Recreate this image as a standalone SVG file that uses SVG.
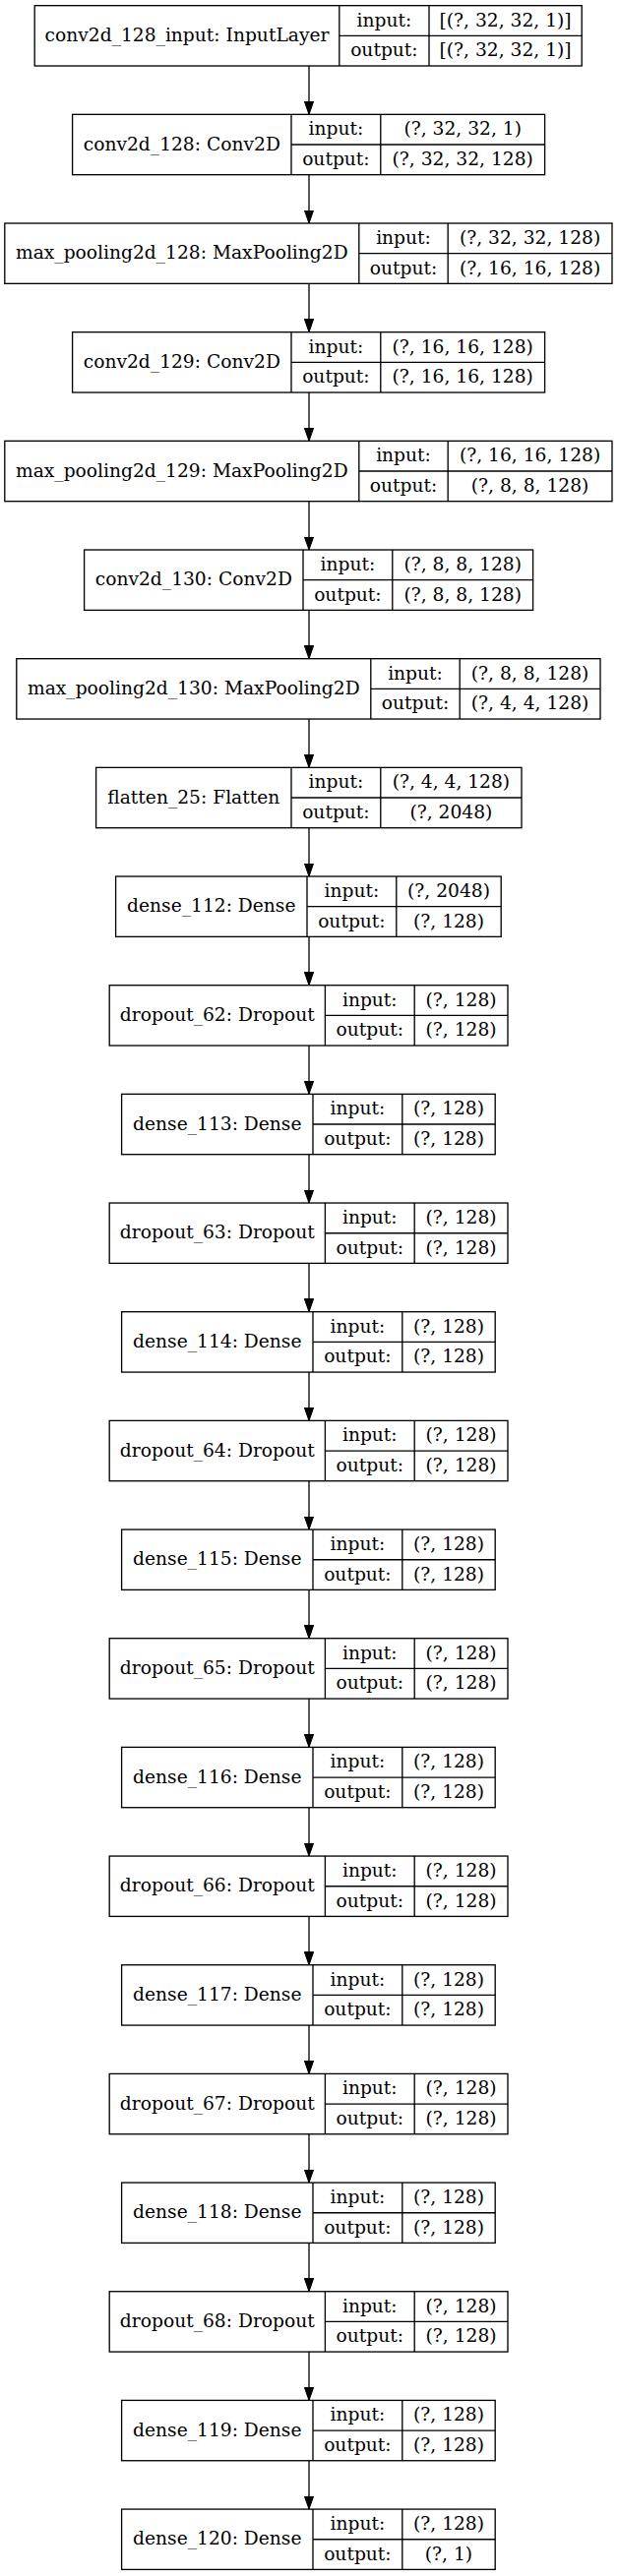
<svg xmlns="http://www.w3.org/2000/svg" width="628" height="2619" viewBox="0 0 628 2619">
<style>
.b{fill:#fff;stroke:#000;stroke-width:1.33}
.l{stroke:#000;stroke-width:1.33;fill:none}
text{font-family:"DejaVu Serif","Liberation Serif",serif;font-size:18.67px;fill:#000;text-anchor:middle}
</style>
<defs>
<marker id="ah" markerUnits="userSpaceOnUse" markerWidth="14" markerHeight="10" refX="13.33" refY="4.67" orient="auto">
<path d="M0,0 L13.33,4.67 L0,9.33 Z" fill="#000" stroke="#000" stroke-width="1"/>
</marker>
</defs>
<rect width="628" height="2619" fill="#fff"/>
<g id="connectors">
<line class="l" x1="314" y1="67" x2="314" y2="116.34" marker-end="url(#ah)"/>
<line class="l" x1="314" y1="177.67" x2="314" y2="227.01" marker-end="url(#ah)"/>
<line class="l" x1="314" y1="288.34" x2="314" y2="337.68" marker-end="url(#ah)"/>
<line class="l" x1="314" y1="399.01" x2="314" y2="448.35" marker-end="url(#ah)"/>
<line class="l" x1="314" y1="509.68" x2="314" y2="559.02" marker-end="url(#ah)"/>
<line class="l" x1="314" y1="620.35" x2="314" y2="669.69" marker-end="url(#ah)"/>
<line class="l" x1="314" y1="731.02" x2="314" y2="780.36" marker-end="url(#ah)"/>
<line class="l" x1="314" y1="841.69" x2="314" y2="891.03" marker-end="url(#ah)"/>
<line class="l" x1="314" y1="952.36" x2="314" y2="1001.70" marker-end="url(#ah)"/>
<line class="l" x1="314" y1="1063.03" x2="314" y2="1112.37" marker-end="url(#ah)"/>
<line class="l" x1="314" y1="1173.70" x2="314" y2="1223.04" marker-end="url(#ah)"/>
<line class="l" x1="314" y1="1284.37" x2="314" y2="1333.71" marker-end="url(#ah)"/>
<line class="l" x1="314" y1="1395.04" x2="314" y2="1444.38" marker-end="url(#ah)"/>
<line class="l" x1="314" y1="1505.71" x2="314" y2="1555.05" marker-end="url(#ah)"/>
<line class="l" x1="314" y1="1616.38" x2="314" y2="1665.72" marker-end="url(#ah)"/>
<line class="l" x1="314" y1="1727.05" x2="314" y2="1776.39" marker-end="url(#ah)"/>
<line class="l" x1="314" y1="1837.72" x2="314" y2="1887.06" marker-end="url(#ah)"/>
<line class="l" x1="314" y1="1948.39" x2="314" y2="1997.73" marker-end="url(#ah)"/>
<line class="l" x1="314" y1="2059.06" x2="314" y2="2108.40" marker-end="url(#ah)"/>
<line class="l" x1="314" y1="2169.73" x2="314" y2="2219.07" marker-end="url(#ah)"/>
<line class="l" x1="314" y1="2280.40" x2="314" y2="2329.74" marker-end="url(#ah)"/>
<line class="l" x1="314" y1="2391.07" x2="314" y2="2440.41" marker-end="url(#ah)"/>
<line class="l" x1="314" y1="2501.74" x2="314" y2="2551.08" marker-end="url(#ah)"/>
</g>
<g id="conv2d_128_input" transform="translate(0,5.67)">
<rect class="b" x="35.2" y="0" width="556" height="61.33"/>
<path class="l" d="M344.8,0V61.33M436,0V61.33M344.8,30.67H591.2"/>
<text x="190" y="36.3">conv2d_128_input: InputLayer</text>
<text x="390.4" y="21">input:</text><text x="390.4" y="51.7">output:</text>
<text x="513.6" y="21">[(?, 32, 32, 1)]</text><text x="513.6" y="51.7">[(?, 32, 32, 1)]</text>
</g>
<g id="conv2d_128" transform="translate(0,116.34)">
<rect class="b" x="73.6" y="0" width="480" height="61.33"/>
<path class="l" d="M296,0V61.33M386.8,0V61.33M296,30.67H553.6"/>
<text x="184.8" y="36.3">conv2d_128: Conv2D</text>
<text x="341.4" y="21">input:</text><text x="341.4" y="51.7">output:</text>
<text x="470.2" y="21">(?, 32, 32, 1)</text><text x="470.2" y="51.7">(?, 32, 32, 128)</text>
</g>
<g id="max_pooling2d_128" transform="translate(0,227.01)">
<rect class="b" x="4.8" y="0" width="617.2" height="61.33"/>
<path class="l" d="M364.8,0V61.33M455.2,0V61.33M364.8,30.67H622"/>
<text x="184.8" y="36.3">max_pooling2d_128: MaxPooling2D</text>
<text x="410" y="21">input:</text><text x="410" y="51.7">output:</text>
<text x="538.6" y="21">(?, 32, 32, 128)</text><text x="538.6" y="51.7">(?, 16, 16, 128)</text>
</g>
<g id="conv2d_129" transform="translate(0,337.68)">
<rect class="b" x="73.6" y="0" width="480" height="61.33"/>
<path class="l" d="M296,0V61.33M386.8,0V61.33M296,30.67H553.6"/>
<text x="184.8" y="36.3">conv2d_129: Conv2D</text>
<text x="341.4" y="21">input:</text><text x="341.4" y="51.7">output:</text>
<text x="470.2" y="21">(?, 16, 16, 128)</text><text x="470.2" y="51.7">(?, 16, 16, 128)</text>
</g>
<g id="max_pooling2d_129" transform="translate(0,448.35)">
<rect class="b" x="4.8" y="0" width="617.2" height="61.33"/>
<path class="l" d="M364.8,0V61.33M455.2,0V61.33M364.8,30.67H622"/>
<text x="184.8" y="36.3">max_pooling2d_129: MaxPooling2D</text>
<text x="410" y="21">input:</text><text x="410" y="51.7">output:</text>
<text x="538.6" y="21">(?, 16, 16, 128)</text><text x="538.6" y="51.7">(?, 8, 8, 128)</text>
</g>
<g id="conv2d_130" transform="translate(0,559.02)">
<rect class="b" x="85.6" y="0" width="456" height="61.33"/>
<path class="l" d="M308,0V61.33M398.8,0V61.33M308,30.67H541.6"/>
<text x="196.8" y="36.3">conv2d_130: Conv2D</text>
<text x="353.4" y="21">input:</text><text x="353.4" y="51.7">output:</text>
<text x="470.2" y="21">(?, 8, 8, 128)</text><text x="470.2" y="51.7">(?, 8, 8, 128)</text>
</g>
<g id="max_pooling2d_130" transform="translate(0,669.69)">
<rect class="b" x="16.8" y="0" width="593.2" height="61.33"/>
<path class="l" d="M376.8,0V61.33M467.2,0V61.33M376.8,30.67H610"/>
<text x="196.8" y="36.3">max_pooling2d_130: MaxPooling2D</text>
<text x="422" y="21">input:</text><text x="422" y="51.7">output:</text>
<text x="538.6" y="21">(?, 8, 8, 128)</text><text x="538.6" y="51.7">(?, 4, 4, 128)</text>
</g>
<g id="flatten_25" transform="translate(0,780.36)">
<rect class="b" x="97.6" y="0" width="432.4" height="61.33"/>
<path class="l" d="M296,0V61.33M386.8,0V61.33M296,30.67H530"/>
<text x="196.8" y="36.3">flatten_25: Flatten</text>
<text x="341.4" y="21">input:</text><text x="341.4" y="51.7">output:</text>
<text x="458.4" y="21">(?, 4, 4, 128)</text><text x="458.4" y="51.7">(?, 2048)</text>
</g>
<g id="dense_112" transform="translate(0,891.03)">
<rect class="b" x="117.6" y="0" width="391.6" height="61.33"/>
<path class="l" d="M312,0V61.33M402.8,0V61.33M312,30.67H509.2"/>
<text x="214.8" y="36.3">dense_112: Dense</text>
<text x="357.4" y="21">input:</text><text x="357.4" y="51.7">output:</text>
<text x="456" y="21">(?, 2048)</text><text x="456" y="51.7">(?, 128)</text>
</g>
<g id="dropout_62" transform="translate(0,1001.70)">
<rect class="b" x="111.2" y="0" width="404.8" height="61.33"/>
<path class="l" d="M330.4,0V61.33M421.2,0V61.33M330.4,30.67H516"/>
<text x="220.8" y="36.3">dropout_62: Dropout</text>
<text x="375.8" y="21">input:</text><text x="375.8" y="51.7">output:</text>
<text x="468.6" y="21">(?, 128)</text><text x="468.6" y="51.7">(?, 128)</text>
</g>
<g id="dense_113" transform="translate(0,1112.37)">
<rect class="b" x="123.6" y="0" width="379.6" height="61.33"/>
<path class="l" d="M318,0V61.33M408.8,0V61.33M318,30.67H503.2"/>
<text x="220.8" y="36.3">dense_113: Dense</text>
<text x="363.4" y="21">input:</text><text x="363.4" y="51.7">output:</text>
<text x="456" y="21">(?, 128)</text><text x="456" y="51.7">(?, 128)</text>
</g>
<g id="dropout_63" transform="translate(0,1223.04)">
<rect class="b" x="111.2" y="0" width="404.8" height="61.33"/>
<path class="l" d="M330.4,0V61.33M421.2,0V61.33M330.4,30.67H516"/>
<text x="220.8" y="36.3">dropout_63: Dropout</text>
<text x="375.8" y="21">input:</text><text x="375.8" y="51.7">output:</text>
<text x="468.6" y="21">(?, 128)</text><text x="468.6" y="51.7">(?, 128)</text>
</g>
<g id="dense_114" transform="translate(0,1333.71)">
<rect class="b" x="123.6" y="0" width="379.6" height="61.33"/>
<path class="l" d="M318,0V61.33M408.8,0V61.33M318,30.67H503.2"/>
<text x="220.8" y="36.3">dense_114: Dense</text>
<text x="363.4" y="21">input:</text><text x="363.4" y="51.7">output:</text>
<text x="456" y="21">(?, 128)</text><text x="456" y="51.7">(?, 128)</text>
</g>
<g id="dropout_64" transform="translate(0,1444.38)">
<rect class="b" x="111.2" y="0" width="404.8" height="61.33"/>
<path class="l" d="M330.4,0V61.33M421.2,0V61.33M330.4,30.67H516"/>
<text x="220.8" y="36.3">dropout_64: Dropout</text>
<text x="375.8" y="21">input:</text><text x="375.8" y="51.7">output:</text>
<text x="468.6" y="21">(?, 128)</text><text x="468.6" y="51.7">(?, 128)</text>
</g>
<g id="dense_115" transform="translate(0,1555.05)">
<rect class="b" x="123.6" y="0" width="379.6" height="61.33"/>
<path class="l" d="M318,0V61.33M408.8,0V61.33M318,30.67H503.2"/>
<text x="220.8" y="36.3">dense_115: Dense</text>
<text x="363.4" y="21">input:</text><text x="363.4" y="51.7">output:</text>
<text x="456" y="21">(?, 128)</text><text x="456" y="51.7">(?, 128)</text>
</g>
<g id="dropout_65" transform="translate(0,1665.72)">
<rect class="b" x="111.2" y="0" width="404.8" height="61.33"/>
<path class="l" d="M330.4,0V61.33M421.2,0V61.33M330.4,30.67H516"/>
<text x="220.8" y="36.3">dropout_65: Dropout</text>
<text x="375.8" y="21">input:</text><text x="375.8" y="51.7">output:</text>
<text x="468.6" y="21">(?, 128)</text><text x="468.6" y="51.7">(?, 128)</text>
</g>
<g id="dense_116" transform="translate(0,1776.39)">
<rect class="b" x="123.6" y="0" width="379.6" height="61.33"/>
<path class="l" d="M318,0V61.33M408.8,0V61.33M318,30.67H503.2"/>
<text x="220.8" y="36.3">dense_116: Dense</text>
<text x="363.4" y="21">input:</text><text x="363.4" y="51.7">output:</text>
<text x="456" y="21">(?, 128)</text><text x="456" y="51.7">(?, 128)</text>
</g>
<g id="dropout_66" transform="translate(0,1887.06)">
<rect class="b" x="111.2" y="0" width="404.8" height="61.33"/>
<path class="l" d="M330.4,0V61.33M421.2,0V61.33M330.4,30.67H516"/>
<text x="220.8" y="36.3">dropout_66: Dropout</text>
<text x="375.8" y="21">input:</text><text x="375.8" y="51.7">output:</text>
<text x="468.6" y="21">(?, 128)</text><text x="468.6" y="51.7">(?, 128)</text>
</g>
<g id="dense_117" transform="translate(0,1997.73)">
<rect class="b" x="123.6" y="0" width="379.6" height="61.33"/>
<path class="l" d="M318,0V61.33M408.8,0V61.33M318,30.67H503.2"/>
<text x="220.8" y="36.3">dense_117: Dense</text>
<text x="363.4" y="21">input:</text><text x="363.4" y="51.7">output:</text>
<text x="456" y="21">(?, 128)</text><text x="456" y="51.7">(?, 128)</text>
</g>
<g id="dropout_67" transform="translate(0,2108.40)">
<rect class="b" x="111.2" y="0" width="404.8" height="61.33"/>
<path class="l" d="M330.4,0V61.33M421.2,0V61.33M330.4,30.67H516"/>
<text x="220.8" y="36.3">dropout_67: Dropout</text>
<text x="375.8" y="21">input:</text><text x="375.8" y="51.7">output:</text>
<text x="468.6" y="21">(?, 128)</text><text x="468.6" y="51.7">(?, 128)</text>
</g>
<g id="dense_118" transform="translate(0,2219.07)">
<rect class="b" x="123.6" y="0" width="379.6" height="61.33"/>
<path class="l" d="M318,0V61.33M408.8,0V61.33M318,30.67H503.2"/>
<text x="220.8" y="36.3">dense_118: Dense</text>
<text x="363.4" y="21">input:</text><text x="363.4" y="51.7">output:</text>
<text x="456" y="21">(?, 128)</text><text x="456" y="51.7">(?, 128)</text>
</g>
<g id="dropout_68" transform="translate(0,2329.74)">
<rect class="b" x="111.2" y="0" width="404.8" height="61.33"/>
<path class="l" d="M330.4,0V61.33M421.2,0V61.33M330.4,30.67H516"/>
<text x="220.8" y="36.3">dropout_68: Dropout</text>
<text x="375.8" y="21">input:</text><text x="375.8" y="51.7">output:</text>
<text x="468.6" y="21">(?, 128)</text><text x="468.6" y="51.7">(?, 128)</text>
</g>
<g id="dense_119" transform="translate(0,2440.41)">
<rect class="b" x="123.6" y="0" width="379.6" height="61.33"/>
<path class="l" d="M318,0V61.33M408.8,0V61.33M318,30.67H503.2"/>
<text x="220.8" y="36.3">dense_119: Dense</text>
<text x="363.4" y="21">input:</text><text x="363.4" y="51.7">output:</text>
<text x="456" y="21">(?, 128)</text><text x="456" y="51.7">(?, 128)</text>
</g>
<g id="dense_120" transform="translate(0,2551.08)">
<rect class="b" x="123.6" y="0" width="379.6" height="61.33"/>
<path class="l" d="M318,0V61.33M408.8,0V61.33M318,30.67H503.2"/>
<text x="220.8" y="36.3">dense_120: Dense</text>
<text x="363.4" y="21">input:</text><text x="363.4" y="51.7">output:</text>
<text x="456" y="21">(?, 128)</text><text x="456" y="51.7">(?, 1)</text>
</g>
</svg>
